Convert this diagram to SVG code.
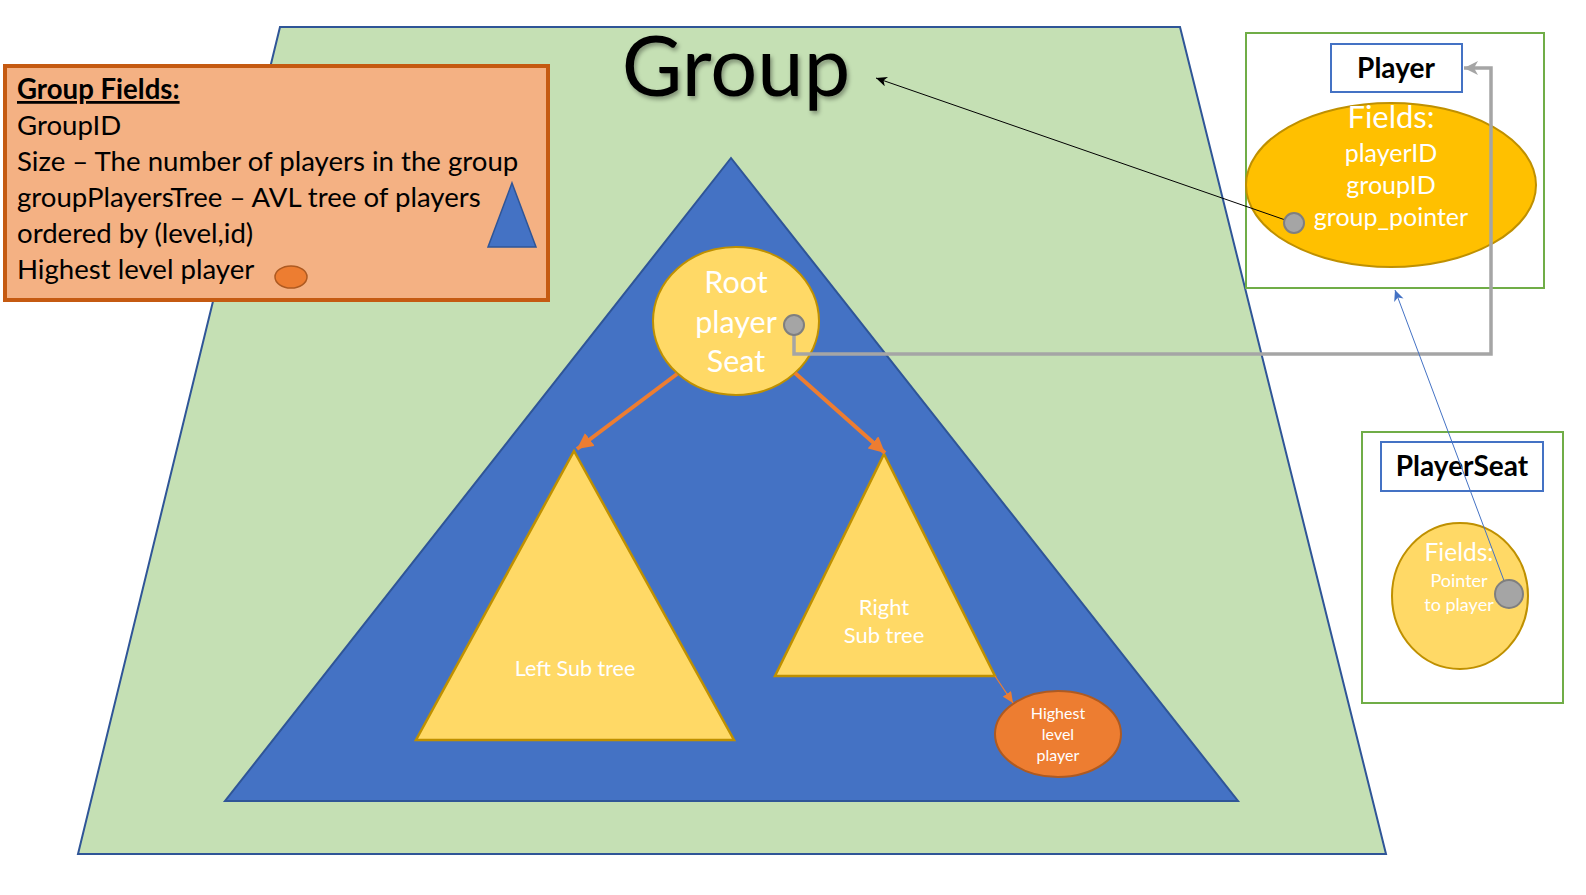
<svg xmlns="http://www.w3.org/2000/svg" width="1586" height="895" viewBox="0 0 1586 895">
<style>
text{font-family:Lato,"Open Sans","Liberation Sans",sans-serif}
.w{fill:#ffffff}
.k{fill:#000000}
.ytri{fill:#FFD966;stroke:#BF9000;stroke-width:2.5}
.gbox{fill:#ffffff;stroke:#70AD47;stroke-width:2}
.lbox{fill:#ffffff;stroke:#4472C4;stroke-width:2}
.dot{fill:#A5A5A5;stroke:#7F7F7F;stroke-width:2}
.mid{text-anchor:middle}
.gf{font-size:27.6px}
</style>
<defs>
<marker id="mOr" markerUnits="userSpaceOnUse" markerWidth="18" markerHeight="16" refX="16" refY="8" orient="auto">
<path d="M0,0 L16,8 L0,16 Z" fill="#ED7D31"/>
</marker>
<marker id="mOrS" markerUnits="userSpaceOnUse" markerWidth="12" markerHeight="10" refX="11" refY="5" orient="auto">
<path d="M0,0 L11,5 L0,10 Z" fill="#ED7D31"/>
</marker>
<marker id="mGr" markerUnits="userSpaceOnUse" markerWidth="16" markerHeight="14" refX="14" refY="7" orient="auto">
<path d="M0,0 L14,7 L0,14 L4,7 Z" fill="#A5A5A5"/>
</marker>
<marker id="mBk" markerUnits="userSpaceOnUse" markerWidth="12" markerHeight="10" refX="11" refY="5" orient="auto">
<path d="M0,0 L11,5 L0,10 L3,5 Z" fill="#000000"/>
</marker>
<marker id="mBl" markerUnits="userSpaceOnUse" markerWidth="12" markerHeight="10" refX="11" refY="5" orient="auto">
<path d="M0,0 L11,5 L0,10 L3,5 Z" fill="#4472C4"/>
</marker>
<filter id="sh" x="-10%" y="-10%" width="130%" height="130%">
<feDropShadow dx="2" dy="3" stdDeviation="2" flood-color="#000000" flood-opacity="0.35"/>
</filter>
</defs>

<g id="group">
<polygon points="280,27 1180,27 1386,854 78,854" fill="#C5E0B4" stroke="#2F5597" stroke-width="2"/>
<text x="736" y="96" class="mid k" font-size="83" filter="url(#sh)">Group</text>
</g>

<g id="avl-tree">
<polygon points="731,158 1238,801 225,801" fill="#4472C4" stroke="#2F5597" stroke-width="2"/>
</g>

<g id="group-fields">
<rect x="5" y="66" width="543" height="234" fill="#F4B183" stroke="#C55A11" stroke-width="4"/>
<text x="17" y="99" font-weight="bold" text-decoration="underline" class="k gf">Group Fields:</text>
<text x="17" y="135" class="k gf">GroupID</text>
<text x="17" y="171" class="k gf">Size – The number of players in the group</text>
<text x="17" y="207" class="k gf">groupPlayersTree – AVL tree of players</text>
<text x="17" y="243" class="k gf">ordered by (level,id)</text>
<text x="17" y="279" class="k gf">Highest level player</text>
<polygon points="512,183 536,247 488,247" fill="#4472C4" stroke="#2F5597" stroke-width="1.5"/>
<ellipse cx="291" cy="277" rx="16" ry="11" fill="#ED7D31" stroke="#AE5A21" stroke-width="1.5"/>
</g>

<g id="left-subtree">
<polygon points="574,451 734,740 416,740" class="ytri"/>
<text x="575" y="676" font-size="21.5" class="mid w">Left Sub tree</text>
</g>

<g id="right-subtree">
<polygon points="884,454 995,676 775,676" class="ytri"/>
<text x="884" y="615" font-size="22" class="mid w">Right</text>
<text x="884" y="643" font-size="22" class="mid w">Sub tree</text>
</g>

<g id="highest-level-player">
<ellipse cx="1058" cy="734" rx="63" ry="43" fill="#ED7D31" stroke="#AE5A21" stroke-width="2"/>
<text x="1058" y="719" font-size="16" class="mid w">Highest</text>
<text x="1058" y="740" font-size="16" class="mid w">level</text>
<text x="1058" y="761" font-size="16" class="mid w">player</text>
</g>

<g id="root-player-seat">
<ellipse cx="736" cy="321" rx="83" ry="74" fill="#FFD966" stroke="#BF9000" stroke-width="2"/>
<text x="736" y="293" font-size="30.5" class="mid w">Root</text>
<text x="736" y="333" font-size="30.5" class="mid w">player</text>
<text x="736" y="372" font-size="30.5" class="mid w">Seat</text>
</g>

<g id="player">
<rect x="1246" y="33" width="298" height="255" class="gbox"/>
<rect x="1331" y="44" width="131" height="48" class="lbox"/>
<text x="1396" y="78" font-size="28" font-weight="bold" class="mid k">Player</text>
<ellipse cx="1391" cy="185" rx="145" ry="82" fill="#FFC000" stroke="#BF9000" stroke-width="2"/>
<text x="1391" y="128" font-size="31" class="mid w">Fields:</text>
<text x="1391" y="162" font-size="25" class="mid w">playerID</text>
<text x="1391" y="194" font-size="25" class="mid w">groupID</text>
<text x="1391" y="226" font-size="25" class="mid w">group_pointer</text>
</g>

<g id="player-seat">
<rect x="1362" y="432" width="201" height="271" class="gbox"/>
<rect x="1381" y="442" width="162" height="49" class="lbox"/>
<text x="1462" y="476" font-size="28" font-weight="bold" class="mid k">PlayerSeat</text>
<ellipse cx="1460" cy="596" rx="68" ry="73" fill="#FFD966" stroke="#BF9000" stroke-width="2"/>
<text x="1459" y="561" font-size="24.5" class="mid w">Fields:</text>
<text x="1459" y="587" font-size="18" class="mid w">Pointer</text>
<text x="1459" y="611" font-size="18" class="mid w">to player</text>
</g>

<g id="connectors" fill="none">
<line x1="677" y1="374" x2="577" y2="449" stroke="#ED7D31" stroke-width="4" marker-end="url(#mOr)"/>
<line x1="795" y1="373" x2="885" y2="453" stroke="#ED7D31" stroke-width="4" marker-end="url(#mOr)"/>
<line x1="995" y1="676" x2="1013" y2="703" stroke="#ED7D31" stroke-width="1.2" marker-end="url(#mOrS)"/>
<path d="M794,325 V354 H1491 V68 H1464" stroke="#A5A5A5" stroke-width="3.5" marker-end="url(#mGr)"/>
<line x1="1294" y1="223" x2="876" y2="78" stroke="#000000" stroke-width="1" marker-end="url(#mBk)"/>
<line x1="1509" y1="594" x2="1395" y2="290" stroke="#4472C4" stroke-width="1" marker-end="url(#mBl)"/>
<circle cx="794" cy="325" r="10" class="dot"/>
<circle cx="1294" cy="223" r="10" class="dot"/>
<circle cx="1509" cy="594" r="14" class="dot"/>
</g>
</svg>
